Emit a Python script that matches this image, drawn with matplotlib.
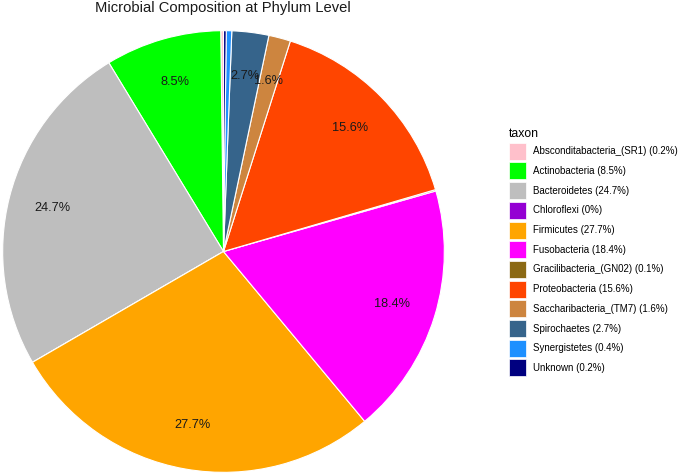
import matplotlib
matplotlib.use("Agg")
import matplotlib.pyplot as plt

plt.rcParams['font.family'] = ['Liberation Sans', 'DejaVu Sans']

# phylum composition (%)
taxa = ["Absconditabacteria_(SR1)", "Actinobacteria", "Bacteroidetes", "Chloroflexi",
        "Firmicutes", "Fusobacteria", "Gracilibacteria_(GN02)", "Proteobacteria",
        "Saccharibacteria_(TM7)", "Spirochaetes", "Synergistetes", "Unknown"]
pct = [0.2, 8.5, 24.7, 0, 27.7, 18.4, 0.1, 15.6, 1.6, 2.7, 0.4, 0.2]
pct_text = ["0.2", "8.5", "24.7", "0", "27.7", "18.4", "0.1", "15.6", "1.6", "2.7", "0.4", "0.2"]
colors = ["#FFC0CB", "#00FF00", "#BEBEBE", "#9400D3", "#FFA500", "#FF00FF",
          "#8B6914", "#FF4500", "#CD853F", "#36648B", "#1E90FF", "#000080"]

fig = plt.figure(figsize=(6.85, 4.75), dpi=100)
W, H = 685, 475
ax = fig.add_axes([2 / W, 2 / H, 443 / W, 443 / H])

def show_pct(p):
    return f"{p:.1f}%" if p >= 1 else ""

wedges, texts, autotexts = ax.pie(
    pct, colors=colors, startangle=90, counterclock=True,
    autopct=show_pct, pctdistance=0.8,
    wedgeprops=dict(edgecolor="white", linewidth=0.8),
    textprops=dict(fontsize=9.2, color="#1a1a1a"))
ax.set_xlim(-1.003, 1.003)
ax.set_ylim(-1.003, 1.003)
ax.set_aspect("equal")

fig.text(223 / W, 1 - 1 / H, "Microbial Composition at Phylum Level",
         ha="center", va="top", fontsize=10.6, color="#1a1a1a")

labels = [f"{t} ({p}%)" for t, p in zip(taxa, pct_text)]
handles = [plt.Rectangle((0, 0), 1, 1, facecolor=c, edgecolor="white", linewidth=0.5)
           for c in colors]
leg = fig.legend(handles, labels, title="taxon", loc="upper left",
                 bbox_to_anchor=(509 / W, 1 - 128 / H), frameon=False,
                 fontsize=7.0, title_fontsize=8.8, alignment="left",
                 handlelength=1.75, handleheight=2.31, labelspacing=0.28,
                 handletextpad=0.7, borderpad=0, borderaxespad=0)

fig.savefig("out.png", dpi=100)
